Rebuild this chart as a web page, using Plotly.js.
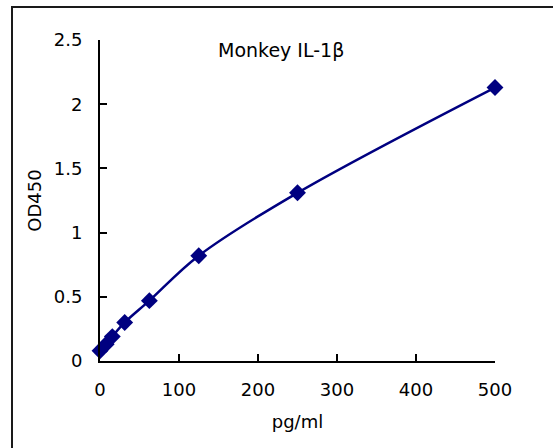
<!DOCTYPE html>
<html>
<head>
<meta charset="utf-8">
<script src="https://cdn.plot.ly/plotly-3.0.1.min.js"></script>
<style>
html,body{margin:0;padding:0;background:#fff;overflow:hidden;}
#chart{width:553px;height:448px;position:absolute;left:0;top:0;}
#frame{position:absolute;left:11px;top:6px;width:600px;height:500px;border-left:2px solid #1a1a1a;border-top:2px solid #1a1a1a;pointer-events:none;}
</style>
</head>
<body>
<div id="chart"></div>
<div id="frame"></div>
<script>
const concentrations = [0, 7.8, 15.6, 31.25, 62.5, 125, 250, 500];
const od450 = [0.08, 0.13, 0.19, 0.30, 0.47, 0.82, 1.31, 2.13];
const xTicks = [0, 100, 200, 300, 400, 500];
const yTicks = [0, 0.5, 1, 1.5, 2, 2.5];
const yTickText = ['0', '0.5', '1', '1.5', '2', '2.5'];
const chartTitle = 'Monkey IL-1β';
const xLabel = 'pg/ml';
const yLabel = 'OD450';

const font = {family: 'DejaVu Sans, sans-serif', size: 18, color: '#000'};

const trace = {
  x: concentrations,
  y: od450,
  mode: 'lines+markers',
  type: 'scatter',
  line: {shape: 'spline', smoothing: 1, color: '#000080', width: 2.5},
  marker: {symbol: 'diamond', size: 13, color: '#000080'},
  cliponaxis: false,
  hoverinfo: 'none'
};

const layout = {
  width: 553, height: 448,
  margin: {l: 100, r: 58, t: 39.5, b: 87, pad: 0},
  paper_bgcolor: 'rgba(0,0,0,0)',
  plot_bgcolor: 'rgba(0,0,0,0)',
  showlegend: false,
  font: font,
  annotations: [{
    text: chartTitle, xref: 'paper', yref: 'paper', x: 0.458, y: 0.97,
    xanchor: 'center', yanchor: 'middle', showarrow: false,
    font: {family: font.family, size: 19, color: '#000'}
  }],
  xaxis: {
    range: [0, 500], tickvals: xTicks, ticktext: xTicks.map(String),
    showgrid: false, zeroline: false, showline: true, linecolor: '#000', linewidth: 2,
    ticks: 'inside', ticklen: 7, tickwidth: 2, tickcolor: '#000',
    ticklabelstandoff: 11,
    tickfont: font,
    title: {text: xLabel, font: font, standoff: 17}
  },
  yaxis: {
    range: [0, 2.5], tickvals: yTicks, ticktext: yTickText,
    showgrid: false, zeroline: false, showline: true, linecolor: '#000', linewidth: 2,
    ticks: 'inside', ticklen: 7, tickwidth: 2, tickcolor: '#000',
    ticklabelstandoff: 12,
    tickfont: font,
    title: {text: yLabel, font: font, standoff: 7}
  }
};

Plotly.newPlot('chart', [trace], layout, {displayModeBar: false, staticPlot: true});
</script>
</body>
</html>
